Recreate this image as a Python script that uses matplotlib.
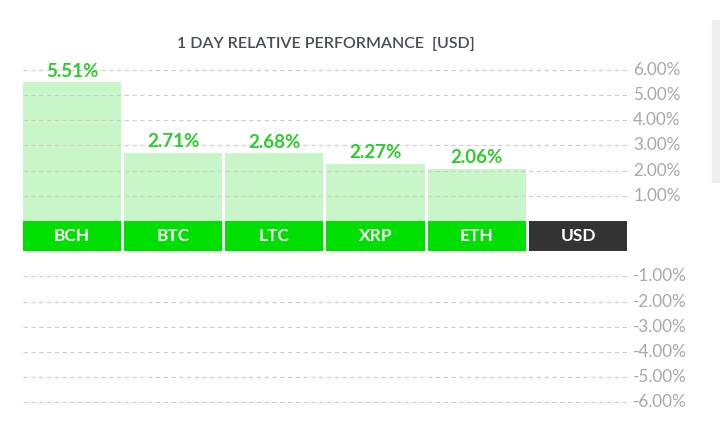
import numpy as np
import matplotlib
matplotlib.use("Agg")
import matplotlib.pyplot as plt
from matplotlib.patches import Rectangle

plt.rcParams["font.family"] = ["Lato", "DejaVu Sans"]

# data
coins = ["BCH", "BTC", "LTC", "XRP", "ETH"]
changes = [5.51, 2.71, 2.68, 2.27, 2.06]
base = "USD"
pos_ticks = [1, 2, 3, 4, 5, 6]
neg_ticks = [-1, -2, -3, -4, -5, -6]
title = "1 DAY RELATIVE PERFORMANCE  [USD]"

bar_col = "#c9f6c9"
strip_col = "#00e000"
base_col = "#333333"
val_col = "#2ccc2c"
grid_col = "#cccccc"
tick_col = "#a8a8a8"

gap = 1.2  # height of the name strip, in % units

fig = plt.figure(figsize=(7.2, 4.22), dpi=100)
ax = fig.add_axes([0, 0, 1, 1])
ax.set_xlim(-0.711, 6.403)
ax.set_ylim(-7.98, 8.77)
ax.axis("off")

x = np.arange(len(coins) + 1)
w = 0.97

# bars
ax.bar(x[:-1], changes, width=w, color=bar_col, zorder=1)

# gridlines + labels
x0, x1 = -0.485, 5.514
for t in pos_ticks:
    ax.plot([x0, x1], [t, t], color=grid_col, lw=0.8, ls=(0, (4, 3)), zorder=2)
    ax.text(5.545, t, f"{t:.2f}%", color=tick_col, fontsize=12.3, va="center", ha="left")
for t in neg_ticks:
    ax.plot([x0, x1], [t - gap, t - gap], color=grid_col, lw=0.8, ls=(0, (4, 3)), zorder=2)
    ax.text(5.545, t - gap, f"{t:.2f}%", color=tick_col, fontsize=12.3, va="center", ha="left")

# name strip
strip_colors = [strip_col] * len(coins) + [base_col]
ax.bar(x, -gap, width=w, bottom=0, color=strip_colors, zorder=3)
for xi, name in zip(x, coins + [base]):
    ax.text(xi, -gap / 2, name, color="white", fontsize=12.5, fontweight="bold",
            ha="center", va="center", zorder=4)

# value labels
for xi, v in zip(x[:-1], changes):
    ax.annotate(f"{v:.2f}%", (xi, v), xytext=(0, 8), textcoords="offset points",
                color=val_col, fontsize=13.5, fontweight="bold",
                ha="center", va="center", zorder=5)

fig.text(326 / 720, 1 - 44 / 422, title, color="#464b55", fontsize=11.5,
         fontweight="semibold", ha="center", va="center")

# scrollbar remnant at the right edge
fig.patches.append(Rectangle((712 / 720, 1 - 182 / 422), 8 / 720, 162 / 422,
                             transform=fig.transFigure, color="#eeeeee", zorder=0))

fig.savefig("out.png", dpi=100)
